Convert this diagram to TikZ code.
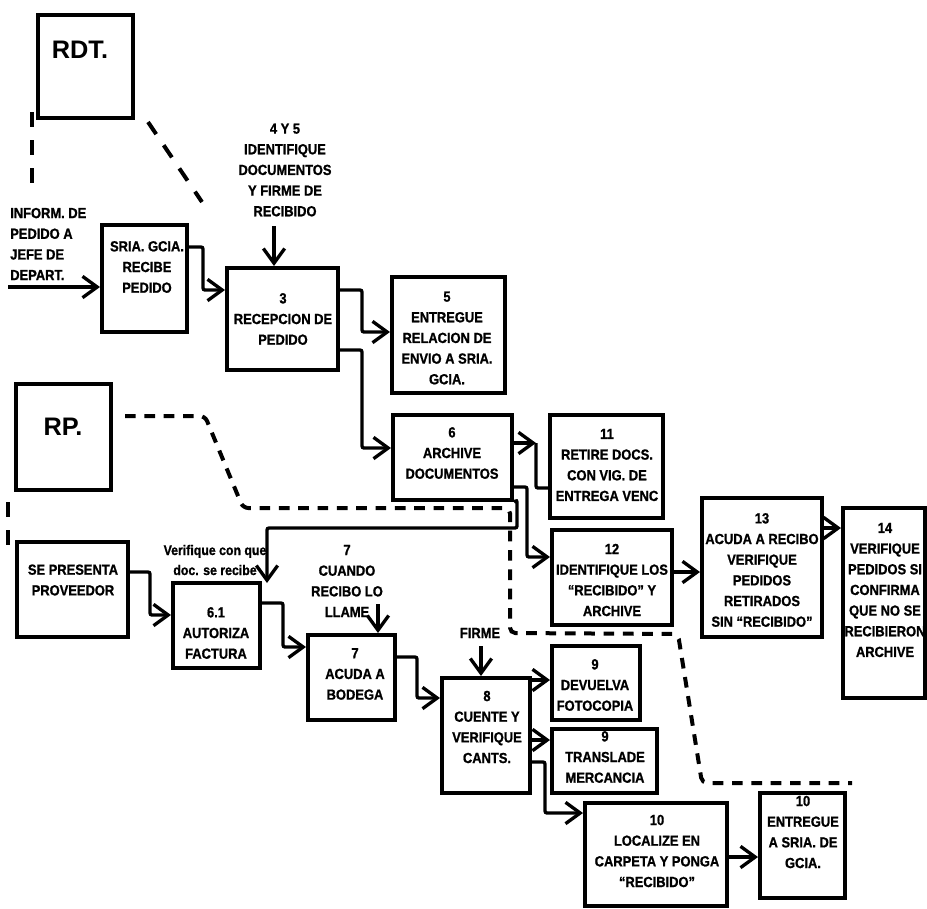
\documentclass[tikz,border=0pt]{standalone}
\usepackage{fontspec}
\newfontfamily\dfont[FakeStretch=0.88,FakeBold=1]{Liberation Sans}
\newfontfamily\bigfont{Liberation Sans}
\usetikzlibrary{arrows.meta,fit}
\begin{document}
\begin{tikzpicture}[x=0.75pt,y=-0.75pt,
  box/.style={draw, line width=3pt, inner sep=0pt, fit={#1}},
  txt/.style={font=\dfont\bfseries\fontsize{11}{15.5}\selectfont, align=center, inner sep=0pt},
  big/.style={font=\bigfont\bfseries\fontsize{19}{22}\selectfont, inner sep=0pt},
  plain/.style={line width=2.5pt, rounded corners=1.5pt},
  conn/.style={plain, -{Straight Barb[length=11pt,width=16pt]}},
  dsh/.style={line width=3pt, dash pattern=on 11pt off 10pt},
  dshs/.style={line width=3pt, dash pattern=on 8pt off 6.5pt, rounded corners=4pt}]
\useasboundingbox (0,0) rectangle (927,908);

% ---------- boxes ----------
\node[box={(38,15) (133,118)}] (rdt) {};
\node[big] (rdtt) at (80,50) {RDT.};
\node[box={(16,384) (111,490)}] (rp) {};
\node[big] (rpt) at (63,427) {RP.};

\node[box={(102,225) (187,332)}] (sria) {};
\node[txt] (sriat) at (147,267) {SRIA. GCIA.\\RECIBE\\PEDIDO};

\node[box={(227,268) (338,370)}] (b3) {};
\node[txt] (b3t) at (283,319) {3\\RECEPCION DE\\PEDIDO};

\node[box={(392,277) (505,393)}] (b5) {};
\node[txt] (b5t) at (447,338) {5\\ENTREGUE\\RELACION DE\\ENVIO A SRIA.\\GCIA.};

\node[box={(393,415) (512,500)}] (b6) {};
\node[txt] (b6t) at (452,453) {6\\ARCHIVE\\DOCUMENTOS};

\node[box={(550,415) (663,518)}] (b11) {};
\node[txt] (b11t) at (607,465) {11\\RETIRE DOCS.\\CON VIG. DE\\ENTREGA VENC};

\node[box={(552,530) (672,625)}] (b12) {};
\node[txt] (b12t) at (612,580) {12\\IDENTIFIQUE LOS\\“RECIBIDO” Y\\ARCHIVE};

\node[box={(702,498) (822,637)}] (b13) {};
\node[txt] (b13t) at (762,570) {13\\ACUDA A RECIBO\\VERIFIQUE\\PEDIDOS\\RETIRADOS\\SIN “RECIBIDO”};

\node[box={(843,508) (925,698)}] (b14) {};
\node[txt] (b14t) at (885,590) {14\\VERIFIQUE\\PEDIDOS SI\\CONFIRMA\\QUE NO SE\\RECIBIERON\\ARCHIVE};

\node[box={(17,542) (128,637)}] (se) {};
\node[txt] (set) at (73,580) {SE PRESENTA\\PROVEEDOR};

\node[box={(173,583) (260,668)}] (b61) {};
\node[txt] (b61t) at (216,633) {6.1\\AUTORIZA\\FACTURA};

\node[box={(308,635) (395,720)}] (b7) {};
\node[txt] (b7t) at (355,674) {7\\ACUDA A\\BODEGA};

\node[box={(442,678) (530,793)}] (b8) {};
\node[txt] (b8t) at (487,727) {8\\CUENTE Y\\VERIFIQUE\\CANTS.};

\node[box={(552,646) (640,720)}] (b9a) {};
\node[txt] (b9at) at (595,685) {9\\DEVUELVA\\FOTOCOPIA};

\node[box={(552,729) (657,793)}] (b9b) {};
\node[txt] (b9bt) at (605,757) {9\\TRANSLADE\\MERCANCIA};

\node[box={(585,803) (727,906)}] (b10a) {};
\node[txt] (b10at) at (657,851) {10\\LOCALIZE EN\\CARPETA Y PONGA\\“RECIBIDO”};

\node[box={(760,793) (845,898)}] (b10b) {};
\node[txt] (b10bt) at (803,832) {10\\ENTREGUE\\A SRIA. DE\\GCIA.};

% ---------- free labels ----------
\node[txt, align=left, anchor=west] (inf) at (10,244) {INFORM. DE\\PEDIDO A\\JEFE DE\\DEPART.};
\node[txt] (l45) at (285,170) {4 Y 5\\IDENTIFIQUE\\DOCUMENTOS\\Y FIRME DE\\RECIBIDO};
\node[txt, font=\dfont\bfseries\fontsize{10.5}{15}\selectfont] (lver) at (215,560) {Verifique con que\\doc. se recibe};
\node[txt] (l7) at (347,581) {7\\CUANDO\\RECIBO LO\\LLAME};
\node[txt] (lfirme) at (480,633) {FIRME};

% ---------- coordinates ----------
\coordinate (inp) at (8,287);
\coordinate (a45) at (274,226);
\coordinate (a7) at (378,604);
\coordinate (afirme) at (481,646);
\coordinate (k611) at (536,443);
\coordinate (vfy) at (267,583);

% ---------- connectors ----------
\draw[conn] (inp) -- (sria.west |- inp);
\draw[conn] (sria.east |- 0,247) -- (203,247) -- (203,290) -- (b3.west |- 0,290);
\draw[conn] (a45) -- (a45 |- b3.north);
\draw[conn] (b3.east |- 0,290) -- (362,290) -- (362,332) -- (b5.west |- 0,332);
\draw[conn] (b3.east |- 0,350) -- (362,350) -- (362,448) -- (b6.west |- 0,448);
\draw[conn] (b6.east |- k611) -- (k611);
\draw[plain] (k611) -- (536,488) -- (b11.west |- 0,488);
\draw[conn] (b6.east |- 0,487) -- (527,487) -- (527,557) -- (b12.west |- 0,557);
\draw[conn] (b6.south east) -- (517,500) -- (517,528) -- (267,528) -- (vfy);
\draw[conn] (b12.east |- 0,572) -- (b13.west |- 0,572);
\draw[conn] (b13.east |- 0,528) -- (b14.west |- 0,528);
\draw[conn] (se.east |- 0,572) -- (150,572) -- (150,615) -- (b61.west |- 0,615);
\draw[conn] (b61.east |- 0,603) -- (283,603) -- (283,647) -- (b7.west |- 0,647);
\draw[conn] (a7) -- (a7 |- b7.north);
\draw[conn] (b7.east |- 0,657) -- (417,657) -- (417,698) -- (b8.west |- 0,698);
\draw[conn] (afirme) -- (afirme |- b8.north);
\draw[conn] (b8.east |- 0,680) -- (b9a.west |- 0,680);
\draw[conn] (b8.east |- 0,740) -- (b9b.west |- 0,740);
\draw[conn] (b8.east |- 0,762) -- (545,762) -- (545,813) -- (b10a.west |- 0,813);
\draw[conn] (b10a.east |- 0,857) -- (b10b.west |- 0,857);

% ---------- dashed lines ----------
\draw[dsh] (32,112) -- (32,187);
\draw[dsh] (148,122) -- (202,202);
\draw[dsh] (8,502) -- (8,547);
\draw[dshs] (125,416) -- (205,416) -- (243,508) -- (510,508) -- (510,633) -- (678,634) -- (702,783) -- (852,783);
\end{tikzpicture}
\end{document}
